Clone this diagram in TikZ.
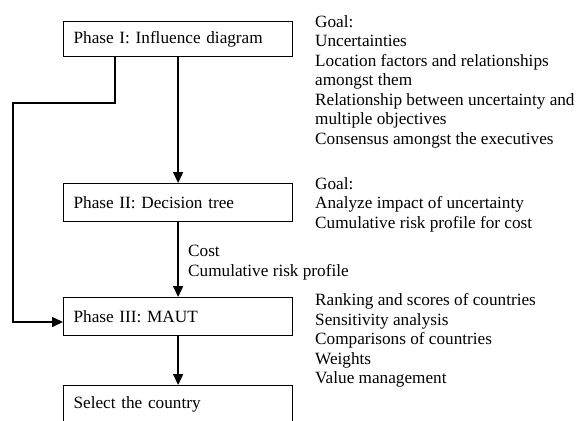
\documentclass[tikz,border=0pt]{standalone}
\usepackage{fontspec}
\setmainfont{Liberation Serif}
\usetikzlibrary{arrows.meta}
\begin{document}
\begin{tikzpicture}[x=1pt,y=-1pt,
  phasebox/.style={draw, line width=1.2pt, anchor=north west, minimum width=229pt,
    minimum height=#1, text width=209pt, inner xsep=10pt, inner ysep=0pt, align=left,
    font=\fontsize{17.2}{19.5}\selectfont},
  phasebox/.default=35pt,
  note/.style={anchor=north west, inner sep=0pt, align=left,
    font=\fontsize{17.2}{19.5}\selectfont, execute at begin node=\strut},
  conn/.style={line width=1.6pt, -{Triangle[width=10pt,length=11pt]}}]
\useasboundingbox (0,0) rectangle (580,420);
\clip (0,0) rectangle (580,420);
\node[phasebox=35pt] (b1) at (63,21) {Phase I: Influence diagram};
\node[phasebox=38pt] (b2) at (63,183) {Phase II: Decision tree};
\node[phasebox=38pt] (b3) at (63,297) {Phase III: MAUT};
\node[phasebox=38pt] (b4) at (63,385) {Select the country};

% baseline minus strut height (0.7*19.5 = 13.65)
\node[note] (n1) at (315,15.35) {Goal:\\Uncertainties\\Location factors and relationships\\amongst them\\Relationship between uncertainty and\\multiple objectives\\Consensus amongst the executives};
\node[note] (n2) at (315,177.35) {Goal:\\Analyze impact of uncertainty\\Cumulative risk profile for cost};
\node[note] (n3) at (188,245.35) {Cost\\Cumulative risk profile};
\node[note] (n4) at (315,293.35) {Ranking and scores of countries\\Sensitivity analysis\\Comparisons of countries\\Weights\\Value management};

\draw[conn] (b1) -- (b2);
\draw[conn] (b2) -- (b3);
\draw[conn] (b3) -- (b4);

\coordinate (k0) at (115,103);
\coordinate (k1) at (13,103);
\coordinate (k2) at (13,322);
\draw[conn] (b1.south -| k0) -- (k0) -- (k1) -- (k2) -- (b3.west |- k2);
\end{tikzpicture}
\end{document}
